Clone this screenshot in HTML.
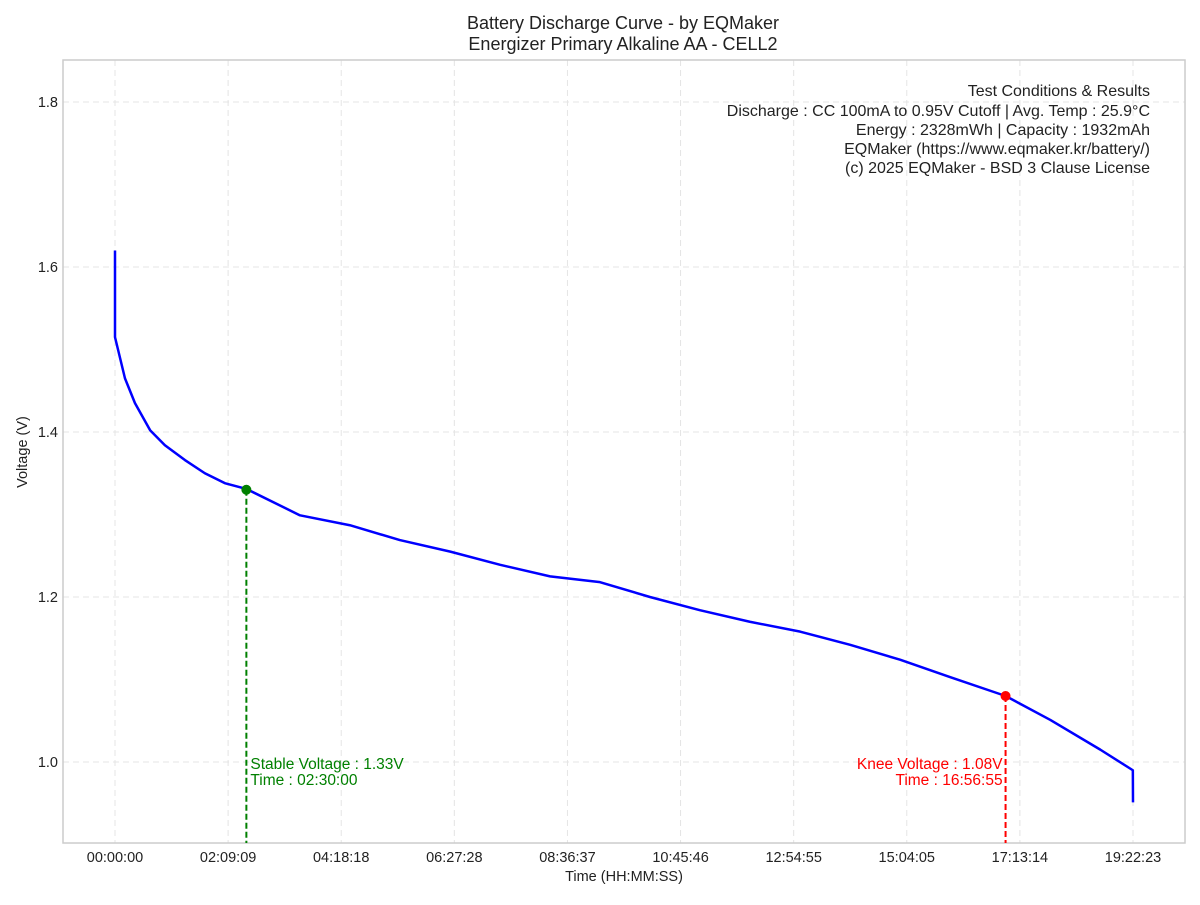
<!DOCTYPE html>
<html><head><meta charset="utf-8"><style>
body{margin:0;background:#fff;}
svg text{font-family:"Liberation Sans",sans-serif;}
</style></head><body>
<svg id="chart" width="1200" height="900">
<text x="623" y="29" font-size="18" text-anchor="middle" fill="#222">Battery Discharge Curve - by EQMaker</text>
<text x="623" y="50" font-size="18" text-anchor="middle" fill="#222">Energizer Primary Alkaline AA - CELL2</text>
<g id="grid"></g>
<rect x="63" y="60" width="1122" height="783" fill="none" stroke="#ccc" stroke-width="1.5"/>
<g id="ticks"></g>
<text x="624" y="881" font-size="14.5" text-anchor="middle" fill="#222">Time (HH:MM:SS)</text>
<text transform="translate(27,452) rotate(-90)" font-size="14.5" text-anchor="middle" fill="#222">Voltage (V)</text>
<g id="series"></g>
<g font-size="16" text-anchor="end" fill="#222">
<text x="1150" y="96">Test Conditions &amp; Results</text>
<text x="1150" y="116">Discharge : CC 100mA to 0.95V Cutoff | Avg. Temp : 25.9°C</text>
<text x="1150" y="135">Energy : 2328mWh | Capacity : 1932mAh</text>
<text x="1150" y="154">EQMaker (https://www.eqmaker.kr/battery/)</text>
<text x="1150" y="173">(c) 2025 EQMaker - BSD 3 Clause License</text>
</g>
</svg>
<script>
const timesH=[0,0,0.19,0.38,0.67,0.95,1.33,1.71,2.09,2.5,3.52,4.47,5.42,6.38,7.33,8.28,9.23,10.18,11.13,12.08,13.04,13.99,14.94,15.89,16.95,17.8,18.75,19.37,19.373];
const volts=[1.62,1.515,1.465,1.435,1.402,1.384,1.366,1.350,1.338,1.331,1.299,1.287,1.269,1.255,1.239,1.225,1.218,1.200,1.184,1.170,1.158,1.142,1.124,1.103,1.080,1.051,1.015,0.990,0.951];
const xTickLabels=["00:00:00","02:09:09","04:18:18","06:27:28","08:36:37","10:45:46","12:54:55","15:04:05","17:13:14","19:22:23"];
const yTicks=[1.0,1.2,1.4,1.6,1.8];
const stablePoint=[2.5,1.33];
const kneePoint=[16.948,1.08];
const ns="http://www.w3.org/2000/svg";
const totalH=69743/3600;
const X=t=>115+t/totalH*1018;
const Y=v=>762-(v-1.0)*825;
function mk(tag,attrs,parent){const e=document.createElementNS(ns,tag);for(const k in attrs)e.setAttribute(k,attrs[k]);parent.appendChild(e);return e;}
const grid=document.getElementById('grid'),ticks=document.getElementById('ticks'),ser=document.getElementById('series');
xTickLabels.forEach((l,i)=>{const x=X(i*totalH/9);
const g=mk('line',{x1:x,x2:x,y1:60,y2:843,stroke:'#e4e4e4','stroke-dasharray':'6,4'},grid);

const t=mk('text',{x:x,y:862,'font-size':14.5,'text-anchor':'middle',fill:'#222'},ticks);t.textContent=l;
});
yTicks.forEach(v=>{const y=Y(v);
const g=mk('line',{x1:63,x2:1185,y1:y,y2:y,stroke:'#e4e4e4','stroke-dasharray':'6,4'},grid);

const t=mk('text',{x:58,y:y+5,'font-size':14.5,'text-anchor':'end',fill:'#222'},ticks);t.textContent=v.toFixed(1);
});
const p=mk('polyline',{points:timesH.map((t,i)=>X(t)+','+Y(volts[i])).join(' '),fill:'none',stroke:'#0000ff','stroke-width':2.5,'stroke-linejoin':'round'},ser);

function marker(pt,col,name,lines,anchor,dx){const x=X(pt[0]),y=Y(pt[1]);
const l=mk('line',{x1:x,x2:x,y1:y,y2:843,stroke:col,'stroke-width':2,'stroke-dasharray':'6,3'},ser);

const c=mk('circle',{cx:x,cy:y,r:5,fill:col},ser);

lines.forEach((s,i)=>{const t=mk('text',{x:x+dx,y:769+i*16,'font-size':15.5,'text-anchor':anchor,fill:col},ser);t.textContent=s;
});}
marker(stablePoint,'green','stable-voltage',['Stable Voltage : 1.33V','Time : 02:30:00'],'start',4);
marker(kneePoint,'red','knee-voltage',['Knee Voltage : 1.08V','Time : 16:56:55'],'end',-3);
</script>
</body></html>
